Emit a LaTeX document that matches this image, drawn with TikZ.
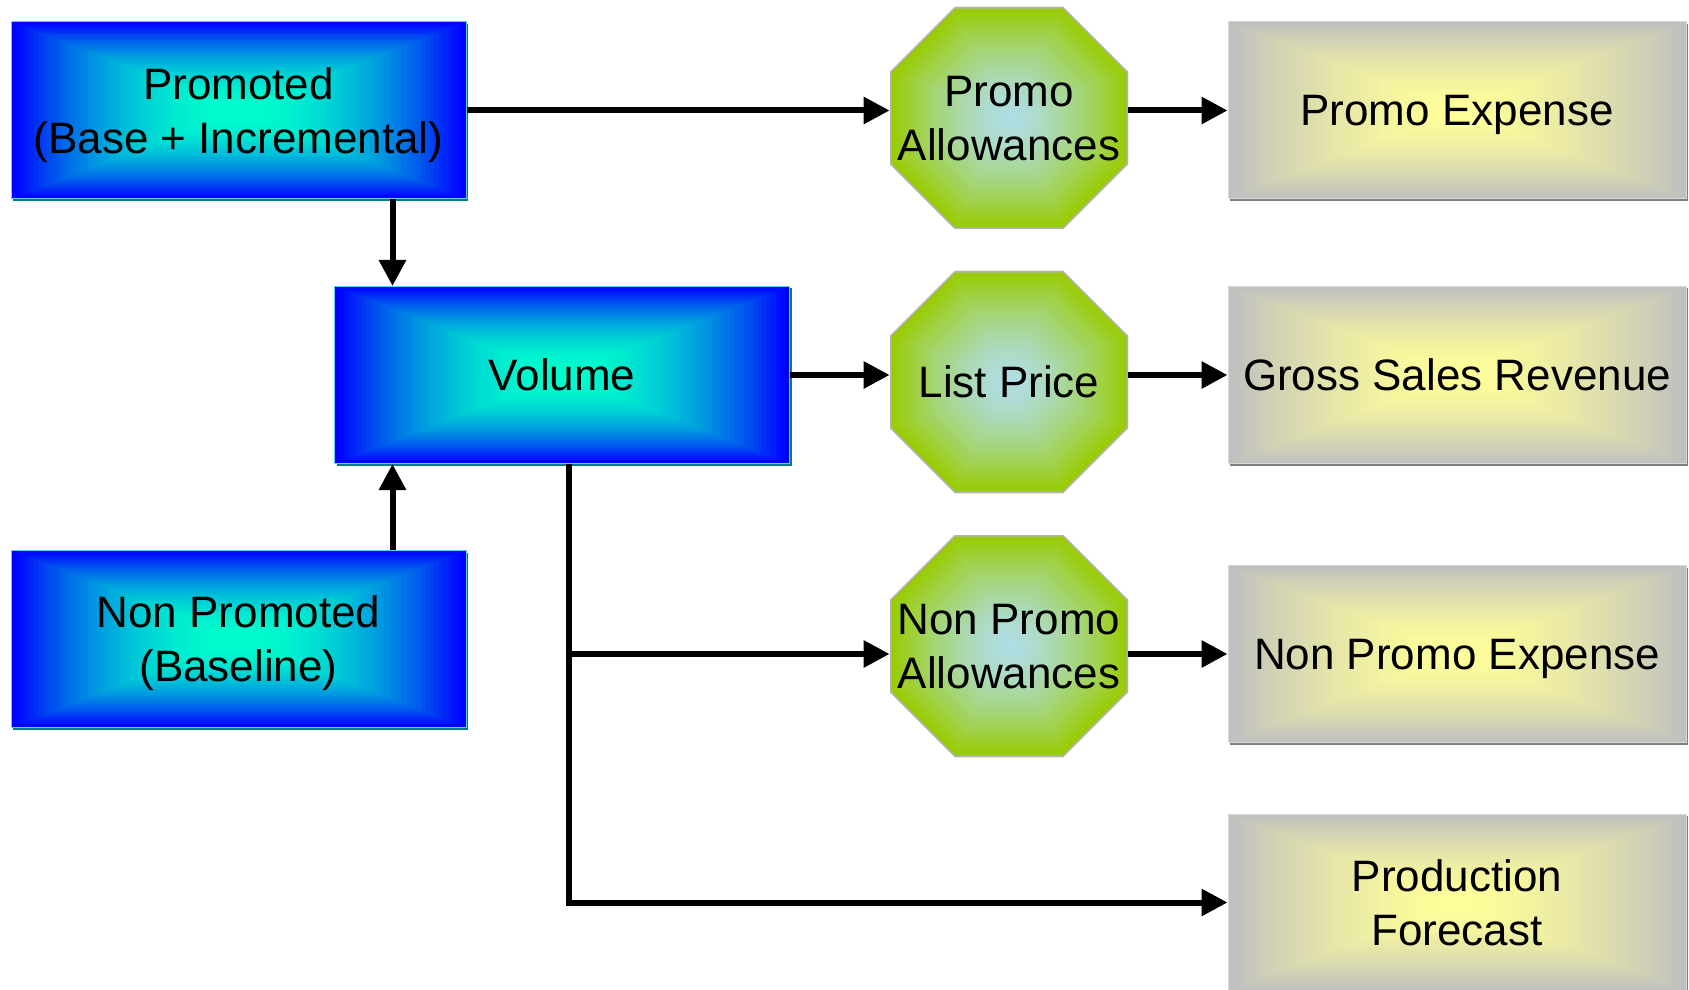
\documentclass[tikz,border=0pt]{standalone}
\usepackage{fontspec}
\setmainfont{Liberation Sans}
\usetikzlibrary{arrows.meta}
\usetikzlibrary{calc}
\usetikzlibrary{shadows}

\definecolor{boxedge}{RGB}{0,0,255}
\definecolor{boxcore}{RGB}{0,255,204}
\definecolor{octedge}{RGB}{153,204,0}
\definecolor{octcore}{RGB}{176,221,230}
\definecolor{resedge}{RGB}{192,192,192}
\definecolor{rescore}{RGB}{255,255,153}

% rectangular gradient: nested rectangles from edge colour #1 to core colour #2,
% #3 is the exponent of the fall-off
\newcommand\rectshade[3]{%
  \foreach \i in {0,...,50}{%
    \pgfmathsetmacro\f{1-\i/50}%
    \pgfmathtruncatemacro\p{100*(1-\f^#3)}%
    \fill[#2!\p!#1] ($(path picture bounding box.center)!\f!(path picture bounding box.north west)$)
      rectangle ($(path picture bounding box.center)!\f!(path picture bounding box.south east)$);
  }}

% same for an octagon with chamfer #3 (pt)
\newcommand\octshade[3]{%
  \coordinate (oc) at (path picture bounding box.center);
  \coordinate (onw) at (path picture bounding box.north west);
  \coordinate (one) at (path picture bounding box.north east);
  \coordinate (ose) at (path picture bounding box.south east);
  \coordinate (osw) at (path picture bounding box.south west);
  \foreach \i in {0,...,50}{%
    \pgfmathsetmacro\f{1-\i/50}%
    \pgfmathtruncatemacro\p{100*(1-\f^1.5)}%
    \pgfmathsetmacro\k{\f*#3}%
    \fill[#2!\p!#1] ($(oc)!\f!(onw)+(\k pt,0pt)$) -- ($(oc)!\f!(one)+(-\k pt,0pt)$)
      -- ($(oc)!\f!(one)+(0pt,-\k pt)$) -- ($(oc)!\f!(ose)+(0pt,\k pt)$)
      -- ($(oc)!\f!(ose)+(-\k pt,0pt)$) -- ($(oc)!\f!(osw)+(\k pt,0pt)$)
      -- ($(oc)!\f!(osw)+(0pt,\k pt)$) -- ($(oc)!\f!(onw)+(0pt,-\k pt)$) -- cycle;
  }
  \draw[gray!60, line width=0.8pt] ($(onw)+(#3pt,-0.4pt)$) -- ($(one)+(-#3pt,-0.4pt)$)
    -- ($(one)+(-0.4pt,-#3pt)$) -- ($(ose)+(-0.4pt,#3pt)$) -- ($(ose)+(-#3pt,0.4pt)$)
    -- ($(osw)+(#3pt,0.4pt)$) -- ($(osw)+(0.4pt,#3pt)$) -- ($(onw)+(0.4pt,-#3pt)$) -- cycle;
}

\tikzset{
  label font/.style={font=\fontsize{22}{27}\selectfont, align=center, inner sep=0pt, text depth=0pt},
  volbox/.style={label font, rectangle, minimum width=227.5pt, minimum height=88.5pt,
    draw=cyan!60, line width=0.5pt,
    drop shadow={shadow xshift=1pt, shadow yshift=-1pt, fill=teal, opacity=1},
    path picture={\rectshade{boxedge}{boxcore}{2}}},
  octbox/.style={label font, rectangle, minimum width=119pt, minimum height=111pt,
    path picture={\octshade{octedge}{octcore}{32.5}}},
  resbox/.style={label font, rectangle, minimum width=229pt, minimum height=88.5pt,
    draw=gray!30, line width=0.5pt,
    drop shadow={shadow xshift=1pt, shadow yshift=-1pt, fill=gray, opacity=1},
    path picture={\rectshade{resedge}{rescore}{1.5}}},
  flow/.style={line width=3pt, -{Triangle[length=13pt,width=13pt]}},
}

\begin{document}
\begin{tikzpicture}[x=0.5pt,y=-0.5pt]
\path[fill=white, use as bounding box] (0,0) rectangle (1689,989);

%Volume sources
\node[volbox] (prom) at (238.5,110.5) {Promoted\\(Base + Incremental)};
\node[volbox] (vol) at (562,375) {Volume};
\node[volbox] (nprom) at (238.5,639) {Non Promoted\\(Baseline)};

%Price and allowance octagons
\node[octbox] (pa) at (1009,118) {Promo\\Allowances};
\node[octbox] (lp) at (1009,382) {List Price};
\node[octbox] (npa) at (1009,646) {Non Promo\\Allowances};

%Results
\node[resbox] (pe) at (1457,110.5) {Promo Expense};
\node[resbox] (gs) at (1457,375) {Gross Sales Revenue};
\node[resbox] (npe) at (1457,654) {Non Promo Expense};
\node[resbox] (pf) at (1457,902.5) {Production\\Forecast};

%Connectors
\coordinate (tap) at ([xshift=3.5pt]vol.south);
\draw[flow] (prom.east) -- (prom.east -| pa.west);
\draw[flow] (pa.east |- pe.west) -- (pe.west);
\draw[flow] ([xshift=77pt]prom.south) -- ([xshift=77pt]prom.south |- vol.north);
\draw[flow] ([xshift=77pt]nprom.north) -- ([xshift=77pt]nprom.north |- vol.south);
\draw[flow] (vol.east) -- (vol.east -| lp.west);
\draw[flow] (lp.east |- gs.west) -- (gs.west);
\draw[flow] (tap) |- (pf.west);
\draw[flow] (tap |- npe.west) -- (npe.west -| npa.west);
\draw[flow] (npa.east |- npe.west) -- (npe.west);

\end{tikzpicture}
\end{document}
